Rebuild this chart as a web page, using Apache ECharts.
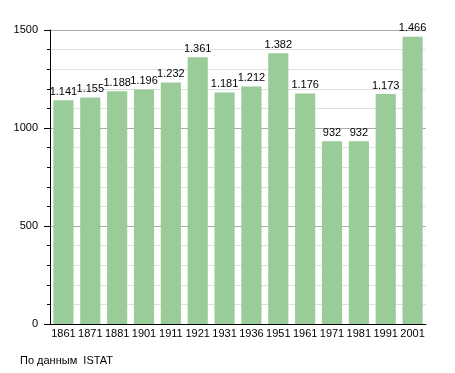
<!DOCTYPE html>
<html><head><meta charset="utf-8">
<script src="https://cdn.jsdelivr.net/npm/echarts@6/dist/echarts.min.js"></script>
<style>html,body{margin:0;padding:0;background:#fff}#c{width:455px;height:373px}</style>
</head><body><div id="c"></div>
<script>
var categories = ['1861','1871','1881','1901','1911','1921','1931','1936','1951','1961','1971','1981','1991','2001'];
var values = [1141,1155,1188,1196,1232,1361,1181,1212,1382,1176,932,932,1173,1466];
var yTicks = [0,500,1000,1500];
function fmt(v){var s=String(v);return s.length>3?s.slice(0,s.length-3)+'.'+s.slice(-3):s;}
var chart = echarts.init(document.getElementById('c'));
chart.setOption({
  animation:false,
  grid:{left:50,right:29,top:30,bottom:49},
  graphic:[{type:'text',left:20,top:355,style:{text:'По данным  ISTAT',font:'11px "Liberation Sans", Arial, sans-serif',fill:'#000'}}],
  xAxis:{type:'category',data:categories,
    axisLine:{lineStyle:{color:'#000',width:1}},axisTick:{show:false},
    axisLabel:{color:'#000',fontSize:11,fontFamily:'Liberation Sans',margin:4,interval:0}},
  yAxis:{type:'value',min:0,max:1500,interval:500,
    axisLine:{show:true,lineStyle:{color:'#000'}},
    axisTick:{show:true,length:6,lineStyle:{color:'#000'}},
    minorTick:{show:true,splitNumber:5,length:3,lineStyle:{color:'#000'}},
    splitLine:{lineStyle:{color:'#aaa'}},
    minorSplitLine:{show:true,lineStyle:{color:'#e0e0e0'}},
    axisLabel:{color:'#000',fontSize:11,fontFamily:'Liberation Sans',margin:12,
      formatter:function(v){return yTicks.indexOf(v)>=0?String(v):'';}}},
  series:[{type:'bar',data:values,barCategoryGap:'25%',
    itemStyle:{color:'#99cc99'},
    label:{show:true,position:'top',distance:3,color:'#000',fontSize:11,fontFamily:'Liberation Sans',
      formatter:function(p){return fmt(p.value);}}}]
});
</script></body></html>
